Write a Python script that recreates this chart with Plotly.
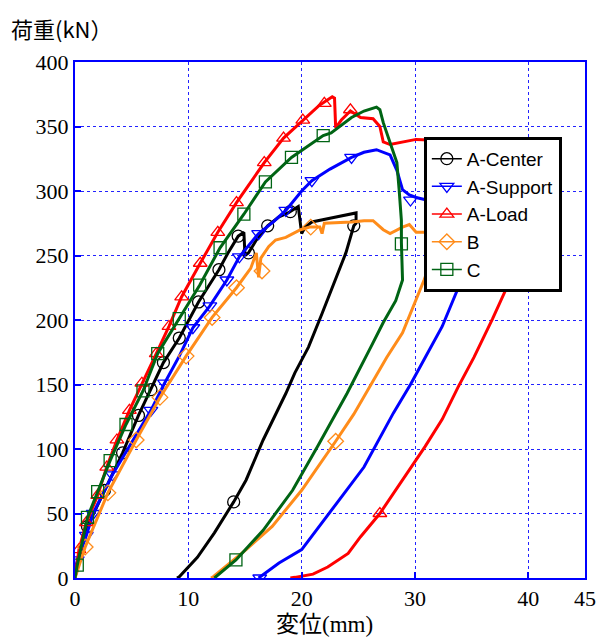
import plotly.graph_objects as go

# ---------------- data ----------------
# A-Center (black)
center_x = [0, 0.5, 1.1, 2.6, 4.2, 5.6, 6.7, 7.8, 9.2, 10.9, 12.7, 13.5, 14.4, 14.9, 15.0, 15.3, 16.0, 17.0,
            18.0, 18.8, 19.7, 20.0, 20.3, 20.9, 22.6, 24.8, 24.8, 24.6, 23.9, 22.9, 21.8, 20.6, 19.4, 18.6,
            16.6, 15.1, 14.0, 12.3, 10.8, 9.2, 9.0]
center_y = [0, 20, 40, 68, 97, 126, 146, 167, 186, 214, 239, 252, 265, 268, 250, 252, 262, 273,
            280, 283, 288, 267, 272, 276, 279, 283, 275, 273, 252, 229, 205, 179, 159, 143,
            107, 76, 59, 35, 16, 1, 0]
center_mx = [1.1, 2.6, 4.2, 5.6, 6.7, 7.8, 9.2, 10.9, 12.7, 14.4, 15.3, 17.0, 19.0, 24.6, 14.0]
center_my = [40, 68, 97, 126, 146, 167, 186, 214, 239, 265, 252, 273, 284, 273, 59]

# A-Support (blue)
support_x = [0, 0.2, 1.0, 1.6, 3.3, 5.0, 6.7, 7.9, 9.2, 10.4, 11.9, 13.4, 14.5, 16.2, 17.5, 18.6, 20.0,
             20.9, 22.5, 24.4, 25.5, 26.6, 27.8, 28.4, 28.9, 29.5, 30.1, 31.5, 33.5, 34.8, 34.9, 34.1,
             32.4, 30.9, 29.6, 28.1, 26.6, 25.5, 23.7, 21.8, 20.0, 18.0, 16.3, 16.2]
support_y = [0, 14, 33, 50, 80, 105, 130, 151, 172, 194, 211, 231, 249, 267, 276, 285, 300,
             308, 317, 326, 330, 332, 328, 316, 301, 297, 295, 292, 289, 285, 255, 231,
             195, 171, 150, 128, 104, 86, 65, 43, 22, 11.6, 1, 0]
support_mx = [0.2, 1.0, 1.6, 3.3, 6.7, 7.9, 10.4, 11.9, 13.4, 14.5, 16.2, 18.6, 20.9, 24.4, 29.6, 16.3]
support_my = [14, 33, 50, 80, 130, 151, 194, 211, 231, 249, 267, 285, 308, 326, 293, 0]

# A-Load (red)
load_x = [0, 0.35, 1.0, 2.0, 2.8, 3.7, 4.8, 5.9, 7.17, 8.29, 9.41, 11.05, 12.6, 14.25, 16.7, 18.4, 20.1,
          21.5, 22.0, 22.7, 22.9, 23.0, 23.5, 24.3, 25.2, 26.3, 26.9, 27.2, 27.8, 28.9, 30.1, 33.0, 36.0,
          39.5, 39.6, 39.0, 38.4, 36.85, 35.2, 33.8, 32.4, 30.9, 29.5, 28.1, 26.9, 25.2, 24.1, 22.3,
          21.0, 19.4, 19.0]
load_y = [0, 22, 43, 64, 86, 107, 130, 151, 174, 195, 218, 244, 268, 291, 322, 341, 355,
          366, 369, 373, 372, 349, 355, 362, 357, 356, 350, 338, 336, 338, 340, 339, 337,
          333, 290, 255, 231, 201, 171, 148, 123, 102, 84, 66, 50, 32, 19, 8.5,
          3, 0.5, 0]
load_mx = [0.35, 1.0, 2.0, 2.8, 3.7, 4.8, 5.9, 7.17, 8.29, 9.41, 11.05, 12.6, 14.25, 16.7, 18.4, 20.1,
           22.0, 24.3, 26.9]
load_my = [22, 43, 64, 86, 107, 130, 151, 174, 195, 218, 244, 268, 291, 322, 341, 355,
           368, 363, 50]

# B (orange)
b_x = [0, 0.9, 2.9, 5.4, 7.5, 9.8, 12.1, 14.25, 15.5, 16.0, 16.2, 16.4, 17.1, 17.7, 18.6, 19.9, 20.7,
       21.6, 21.8, 22.0, 24.4, 25.5, 26.3, 27.2, 27.8, 28.9, 29.5, 30.1, 31.5, 31.6, 30.8, 28.9, 27.5,
       26.0, 24.6, 23.0, 20.0, 17.4, 15.1, 12.2, 12.0]
b_y = [0, 24, 66, 107, 140, 172, 202, 225, 240, 252, 233, 248, 257, 262, 264, 270, 272,
       272, 267, 275, 276, 277, 277, 270, 267, 272, 274, 268, 268, 250, 231, 190, 171,
       148, 127, 106, 68, 40, 22, 1, 0]
b_mx = [0.9, 2.9, 5.4, 7.5, 9.8, 12.1, 14.25, 16.5, 20.8, 23.0]
b_my = [24, 66, 107, 140, 172, 202, 225, 238, 272, 106]

# C (green)
c_x = [0, 0.2, 1.1, 2.0, 3.1, 4.5, 6.0, 7.3, 9.2, 11.0, 12.8, 14.9, 16.8, 19.1, 21.9, 22.6, 24.4,
       25.5, 26.6, 26.9, 27.2, 27.8, 28.4, 28.6, 28.8, 28.8, 28.9, 28.3, 27.2, 26.1, 24.9, 24.0,
       21.4, 19.2, 16.6, 14.2, 12.3]
c_y = [0, 10, 47, 67, 91, 119, 145, 174, 201, 227, 256, 282, 307, 326, 343, 345, 357,
       362, 365, 363, 353, 338, 322, 301, 277, 260, 231, 215, 198, 179, 159, 143,
       102, 68, 37, 14, 0]
c_mx = [0.2, 1.1, 2.0, 3.1, 4.5, 6.0, 7.3, 9.2, 11.0, 12.8, 14.9, 16.8, 19.1, 21.9, 28.8, 14.2]
c_my = [10, 47, 67, 91, 119, 145, 174, 201, 227, 256, 282, 307, 326, 343, 259, 14]

x_ticks = [0, 10, 20, 30, 40, 45]
y_ticks = [0, 50, 100, 150, 200, 250, 300, 350, 400]

series = [
    ("A-Center", center_x, center_y, center_mx, center_my, "#000000", "circle-open"),
    ("A-Support", support_x, support_y, support_mx, support_my, "#0000ff", "triangle-down-open"),
    ("A-Load", load_x, load_y, load_mx, load_my, "#ff0000", "triangle-up-open"),
    ("B", b_x, b_y, b_mx, b_my, "#ff8c1a", "diamond-open"),
    ("C", c_x, c_y, c_mx, c_my, "#006414", "square-open"),
]

fig = go.Figure()
for name, xs, ys, mx, my, col, sym in series:
    fig.add_trace(go.Scatter(x=xs, y=ys, mode="lines", line=dict(color=col, width=3),
                             showlegend=False, hoverinfo="skip"))
    fig.add_trace(go.Scatter(x=mx, y=my, mode="markers",
                             marker=dict(symbol=sym, size=12, color=col, line=dict(width=1.3, color=col)),
                             showlegend=False, hoverinfo="skip"))
for name, xs, ys, mx, my, col, sym in series:
    fig.add_trace(go.Scatter(x=[None], y=[None], mode="lines+markers", name=name,
                             line=dict(color=col, width=1.5),
                             marker=dict(symbol=sym, size=12, color=col, line=dict(width=1.3, color=col))))

serif = "Liberation Serif, Times New Roman, serif"
axis_common = dict(
    showline=True, linecolor="#0000ff", linewidth=2, mirror=True,
    ticks="inside", ticklen=6, tickcolor="#0000ff", tickwidth=2,
    showgrid=True, gridcolor="#2222ff", gridwidth=1, griddash="dot",
    zeroline=False,
    tickfont=dict(family=serif, size=22, color="#000000"),
)

fig.update_layout(
    width=607, height=638,
    margin=dict(l=75, r=11, t=62, b=60),
    plot_bgcolor="white", paper_bgcolor="white",
    xaxis=dict(range=[0, 45], tickvals=x_ticks, ticktext=[str(v) for v in x_ticks], **axis_common),
    yaxis=dict(range=[0, 400], tickvals=y_ticks, ticktext=[str(v) for v in y_ticks], **axis_common),
    legend=dict(x=0.684, y=0.855, xanchor="left", yanchor="top",
                bgcolor="white", bordercolor="#000000", borderwidth=3,
                font=dict(family="Liberation Sans, Arial, sans-serif", size=19, color="#000000"),
                tracegroupgap=0, itemwidth=30, entrywidth=126),
    annotations=[
        dict(text="荷重(kN）", xref="paper", yref="paper", x=-0.129, y=1.066,
             xanchor="left", yanchor="middle", showarrow=False,
             font=dict(family="Noto Sans CJK JP", size=22, color="#000000")),
        dict(text="変位(mm)", xref="paper", yref="paper", x=0.49, y=-0.091,
             xanchor="center", yanchor="middle", showarrow=False,
             font=dict(family=serif + ", Noto Sans CJK JP", size=23, color="#000000")),
    ],
)

fig.write_html("out.html", config={"displayModeBar": False},
               post_script="document.body.style.margin='0px';document.body.style.overflow='hidden';")
